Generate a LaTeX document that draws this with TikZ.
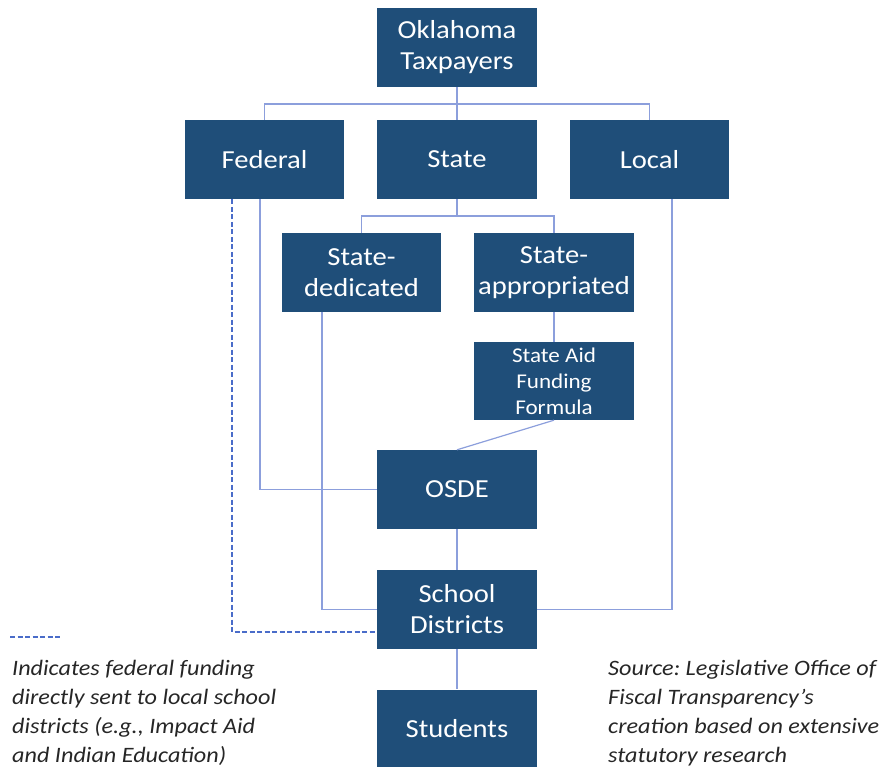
\documentclass[tikz,border=0pt]{standalone}
\usepackage{fontspec}
\setmainfont{Carlito}[FakeStretch=1.1]
\frenchspacing
\begin{document}
\begin{tikzpicture}[x=1pt,y=-1pt,
  box/.style={fill=boxblue, text=white, minimum width=160pt, minimum height=79pt,
    inner sep=0pt, align=center, font=\fontsize{26}{31}\selectfont},
  smallbox/.style={box, font=\fontsize{21}{26}\selectfont},
  link/.style={draw=linkblue, line width=1.2pt},
  direct/.style={draw=dashblue, line width=1.8pt, dash pattern=on 5pt off 2.5pt},
  note/.style={anchor=north west, align=left, inner sep=0pt,
    font=\fontsize{22}{29}\selectfont\itshape, text=black!85}]
\definecolor{boxblue}{HTML}{1F4E79}
\definecolor{linkblue}{HTML}{8C9FDC}
\definecolor{dashblue}{HTML}{4A6CC9}
\useasboundingbox (0,0) rectangle (891,767);

% boxes
\node[box] (tax) at (457,47.5) {Oklahoma\\Taxpayers};
\node[box, minimum width=159pt] (fed) at (264.5,159.5) {Federal};
\node[box] (state) at (457,159.5) {State};
\node[box, minimum width=159pt] (local) at (649.5,159.5) {Local};
\node[box, minimum width=159pt] (sded) at (361.5,272.5) {State-\\dedicated};
\node[box] (sapp) at (554,272.5) {State-\\appropriated};
\node[smallbox, minimum height=78pt] (saff) at (554,381) {State Aid\\Funding\\Formula};
\node[box] (osde) at (457,489.5) {OSDE};
\node[box] (sd) at (457,609.5) {School\\Districts};
\node[box] (stud) at (457,729) {Students};

% junction points and connector starts
\coordinate (j1) at (457,104);
\coordinate (j2) at (457,216);
\coordinate (fedA) at (260,199.5);
\coordinate (fedD) at (232,199.5);
\coordinate (sdedA) at (322,312);
\coordinate (localA) at (672,199.5);

% connectors
\draw[link] (tax.south) -- (j1);
\draw[link] (fed.north) |- (j1) -| (local.north);
\draw[link] (j1) -- (state.north);
\draw[link] (state.south) -- (j2);
\draw[link] (sded.north) |- (j2) -| (sapp.north);
\draw[link] (sapp.south) -- (saff.north);
\draw[link] (saff.south) -- (osde.north);
\draw[link] (fedA) |- (osde.west);
\draw[link] (sdedA) |- (sd.west);
\draw[link] (localA) |- (sd.east);
\draw[link] (osde.south) -- (sd.north);
\draw[link] (sd.south) -- (stud.north);
\draw[direct] (fedD) |- ([yshift=-22.5pt]sd.west);

% legend
\coordinate (legA) at (10,637);
\coordinate (legB) at (62,637);
\draw[direct] (legA) -- (legB);
\node[note] (legtext) at (12,660) {Indicates federal funding\\directly sent to local school\\districts (e.g., Impact Aid\\and Indian Education)};
\node[note] (source) at (608,660) {Source: Legislative Office of\\Fiscal Transparency’s\\creation based on extensive\\statutory research};
\end{tikzpicture}
\end{document}
